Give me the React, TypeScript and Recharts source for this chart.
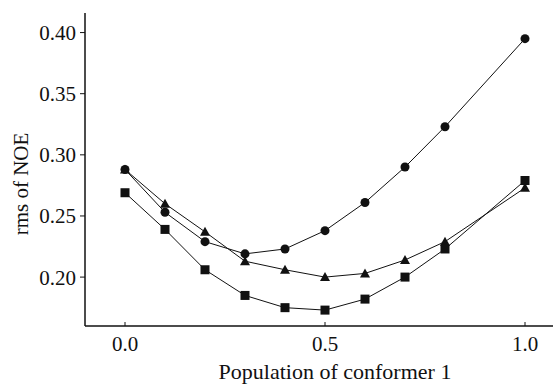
import { LineChart, Line, XAxis, YAxis } from 'recharts'

const FONT = '"Liberation Serif", "Times New Roman", serif'
const INK = '#111'

const population = [0, 0.1, 0.2, 0.3, 0.4, 0.5, 0.6, 0.7, 0.8, 1.0]
const circleSeries = [0.288, 0.253, 0.229, 0.219, 0.223, 0.238, 0.261, 0.29, 0.323, 0.395]
const triangleSeries = [0.288, 0.26, 0.237, 0.213, 0.206, 0.2, 0.203, 0.214, 0.229, 0.273]
const squareSeries = [0.269, 0.239, 0.206, 0.185, 0.175, 0.173, 0.182, 0.2, 0.223, 0.279]

const xTicks = [0, 0.5, 1.0]
const yTicks = [0.2, 0.25, 0.3, 0.35, 0.4]

const data = population.map((p, i) => ({
  p,
  circle: circleSeries[i],
  triangle: triangleSeries[i],
  square: squareSeries[i],
}))

const TICK_MARGIN = 10
const textStyle = { fontFamily: FONT, fontSize: 21, fill: INK }

const XTick = ({ x, y, payload }: any) => (
  <g>
    <line x1={x} x2={x} y1={y - TICK_MARGIN} y2={y - TICK_MARGIN - 4} stroke={INK} />
    <text x={x} y={y} dy="0.71em" textAnchor="middle" style={textStyle}>
      {Number(payload.value).toFixed(1)}
    </text>
  </g>
)

const YTick = ({ x, y, payload }: any) => (
  <text x={x} y={y} dy="0.355em" textAnchor="end" style={textStyle}>
    {Number(payload.value).toFixed(2)}
  </text>
)

const CircleDot = (props: any) => (
  <circle key={props.index} cx={props.cx} cy={props.cy} r={4.5} fill={INK} />
)
const SquareDot = (props: any) => (
  <rect key={props.index} x={props.cx - 4.5} y={props.cy - 4.5} width={9} height={9} fill={INK} />
)
const TriangleDot = (props: any) => (
  <path
    key={props.index}
    d={`M${props.cx},${props.cy - 5} L${props.cx + 5},${props.cy + 4} L${props.cx - 5},${props.cy + 4} Z`}
    fill={INK}
  />
)

export default function App() {
  return (
    <div style={{ position: 'absolute', left: 0, top: 0, background: '#fff' }}>
      <LineChart width={554} height={384} data={data} margin={{ top: 13, right: 1, left: 0, bottom: 0 }}>
        <XAxis
          dataKey="p"
          type="number"
          domain={[-0.1, 1.07]}
          ticks={xTicks}
          allowDataOverflow
          tickSize={0}
          tickMargin={TICK_MARGIN}
          tickLine={false}
          tick={<XTick />}
          height={58}
          axisLine={{ stroke: INK, strokeWidth: 1.5 }}
          label={{
            content: () => (
              <text x={335} y={379} textAnchor="middle" style={{ ...textStyle, fontSize: 22 }}>
                Population of conformer 1
              </text>
            ),
          }}
        />
        <YAxis
          type="number"
          domain={[0.16, 0.416]}
          ticks={yTicks}
          allowDataOverflow
          width={85}
          tickSize={5}
          tickMargin={4}
          tick={<YTick />}
          tickLine={{ stroke: INK }}
          axisLine={{ stroke: INK, strokeWidth: 1.5 }}
          label={{
            content: () => (
              <text x={28} y={184} transform="rotate(-90 28 184)" textAnchor="middle" style={textStyle}>
                rms of NOE
              </text>
            ),
          }}
        />
        <Line dataKey="circle" stroke={INK} strokeWidth={1} dot={CircleDot} isAnimationActive={false} />
        <Line dataKey="triangle" stroke={INK} strokeWidth={1} dot={TriangleDot} isAnimationActive={false} />
        <Line dataKey="square" stroke={INK} strokeWidth={1} dot={SquareDot} isAnimationActive={false} />
      </LineChart>
    </div>
  )
}
